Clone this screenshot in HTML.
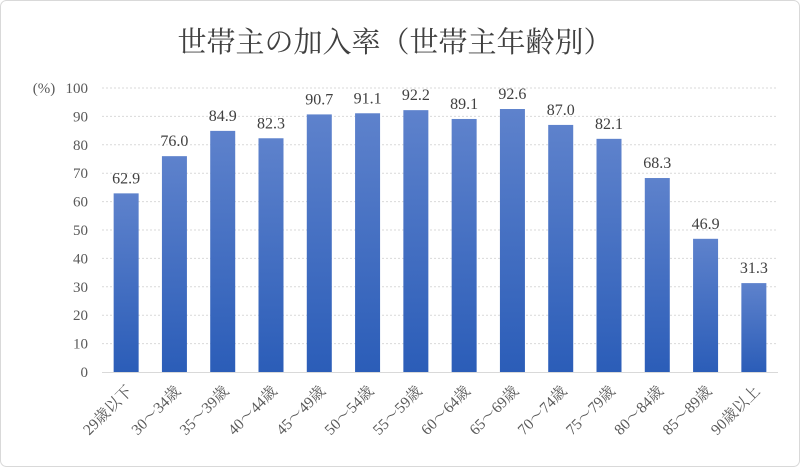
<!DOCTYPE html>
<html><head><meta charset="utf-8"><style>
html,body{margin:0;padding:0;background:#fff;}
svg{display:block;}
text{font-family:"Liberation Serif","Noto Serif CJK SC","Noto Sans CJK JP",serif;}
</style></head><body>
<svg id="chart" width="800" height="467">
<defs><linearGradient id="bg" x1="0" y1="0" x2="0" y2="1"><stop offset="0" stop-color="#5e82cc"/><stop offset="1" stop-color="#2b5db8"/></linearGradient></defs>
<rect x="0.5" y="0.5" width="799" height="466" rx="6" fill="#fff" stroke="#d9d9d9"/>
<text x="395" y="52" text-anchor="middle" font-size="29" fill="#404040">世帯主の加入率（世帯主年齢別）</text>
<text x="44" y="93" text-anchor="middle" font-size="15" fill="#595959">(%)</text>
<g id="grid"></g><g id="bars"></g><g id="labels"></g>
</svg>
<script>
const cats=["29歳以下","30～34歳","35～39歳","40～44歳","45～49歳","50～54歳","55～59歳","60～64歳","65～69歳","70～74歳","75～79歳","80～84歳","85～89歳","90歳以上"];
const values=[62.9,76.0,84.9,82.3,90.7,91.1,92.2,89.1,92.6,87.0,82.1,68.3,46.9,31.3];
const ticks=[0,10,20,30,40,50,60,70,80,90,100];
const NS="http://www.w3.org/2000/svg";
const x0=102,x1=778,y0=372,y100=88;
const n=cats.length, step=(x1-x0)/n, bw=25;
const y=v=>y0-(v/100)*(y0-y100);
const xc=i=>x0+step*(i+0.5);
function mk(t,a,p){const e=document.createElementNS(NS,t);for(const k in a)e.setAttribute(k,a[k]);p.appendChild(e);return e;}
const g=document.getElementById('grid'),b=document.getElementById('bars'),l=document.getElementById('labels');
ticks.forEach(t=>{
 if(t>0){const ln=mk('line',{x1:x0,x2:x1,y1:y(t),y2:y(t),stroke:'#d9d9d9','stroke-dasharray':'2,2'},g);
 
 }
 const tx=mk('text',{x:88,y:y(t)+5,'text-anchor':'end','font-size':15,fill:'#595959'},g);tx.textContent=t;
 
 
});
const ax=mk('line',{x1:x0,x2:x1,y1:y0+0.5,y2:y0+0.5,stroke:'#d9d9d9'},g);


values.forEach((v,i)=>{
 const r=mk('rect',{x:xc(i)-bw/2,y:y(v),width:bw,height:y0-y(v),fill:'url(#bg)'},b);
 
 
 const vt=mk('text',{x:xc(i),y:y(v)-10,'text-anchor':'middle','font-size':16,fill:'#404040'},l);vt.textContent=v.toFixed(1);
 
 
 const ct=mk('text',{x:xc(i)+7,y:y0+20,'text-anchor':'end','font-size':15.5,fill:'#595959',transform:`rotate(-45 ${xc(i)+7} ${y0+20})`},l);ct.textContent=cats[i];
 
 
});
</script>
</body></html>
